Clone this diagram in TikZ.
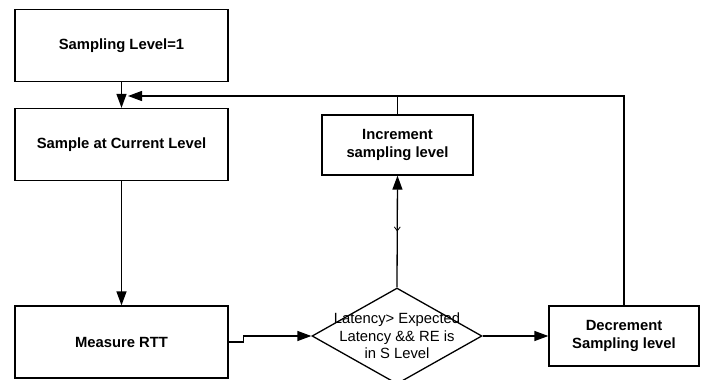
\documentclass[tikz,border=0pt]{standalone}
\usepackage{fontspec}
\setmainfont{Liberation Sans}
\usetikzlibrary{shapes.geometric,arrows.meta,decorations.markings}
\begin{document}
\begin{tikzpicture}[x=1pt,y=-1pt,line width=1.3pt,
    box/.style={draw,minimum width=213pt,minimum height=72pt,inner sep=0pt,align=center,
        font=\fontsize{14.8}{18}\selectfont\bfseries},
    >={Triangle[length=14pt,width=10pt]}]
    \useasboundingbox (0,0) rectangle (705,380);
    % left column
    \path
    foreach \n/\x/\y/\t in {lvl/121.5/45.5/Sampling Level=1,samp/121.5/144.5/Sample at Current Level,meas/121.5/342/Measure RTT} {(\x,\y) node[box] (\n) {\t}};
    % right part
    \node[box,minimum width=151pt,minimum height=60pt] (inc) at (397.5,145) {Increment\\sampling level};
    \node[box,minimum width=150pt,minimum height=60pt] (dec) at (624,336) {Decrement\\Sampling level};
    \node[draw,diamond,minimum width=170pt,minimum height=96pt,inner sep=0pt,
        label={[align=center,font=\fontsize{14.8}{17.5}\selectfont]center:{Latency> Expected\\Latency \&\& RE is\\in S Level}}] (dia) at (397,336) {};
    \coordinate (fb) at (128,96);
    % arrows
    \foreach \a/\b in {lvl/samp,samp/meas,dia/dec} \draw[->] (\a)--(\b);
    \draw[->] (meas.east) -- ++(15,0) |- (dia.west);
    \draw[->,postaction={decorate},decoration={markings,
        mark=at position .5 with {\arrowreversed[line width=.8pt]{Straight Barb[length=4pt,width=6pt]}}}] (dia.north)--(inc.south);
    \draw[->] (dec.north) |- (fb);
    \draw[line width=.8pt] (inc.north)--(inc.north |- fb);
\end{tikzpicture}
\end{document}
